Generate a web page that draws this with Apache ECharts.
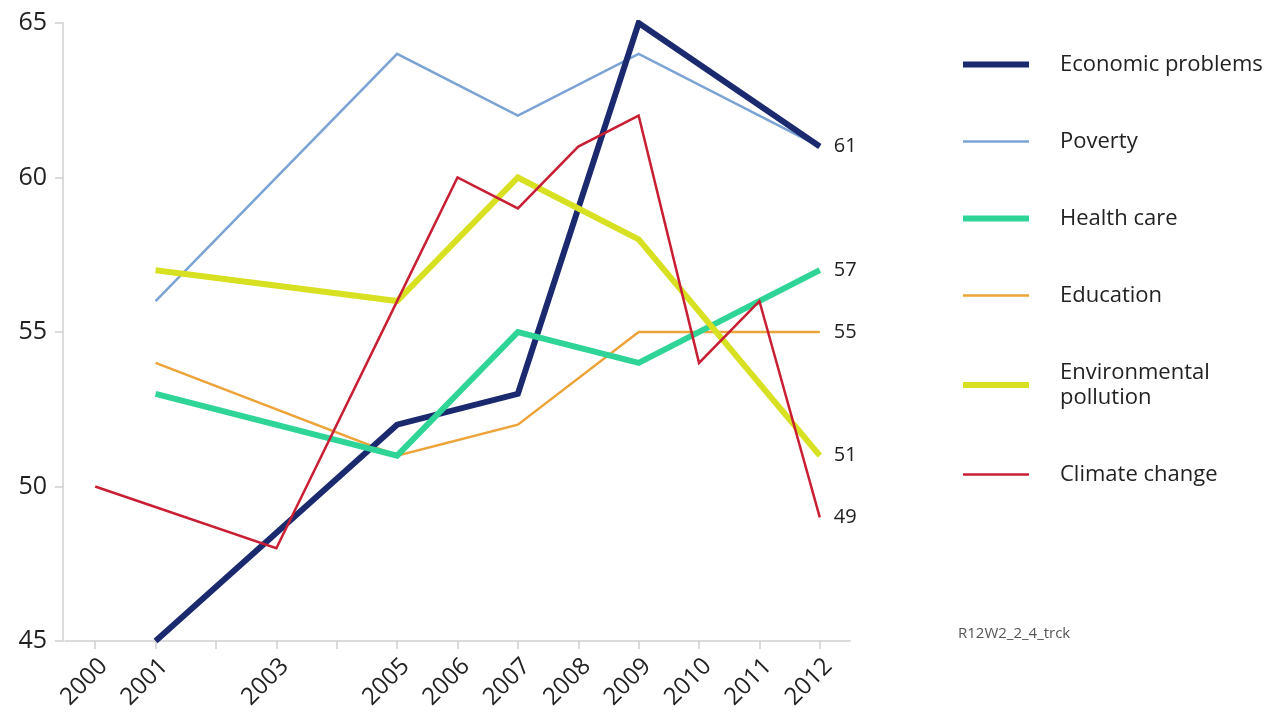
<!DOCTYPE html>
<html>
<head>
<meta charset="utf-8">
<title>Top concerns 2000–2012</title>
<script src="https://cdn.jsdelivr.net/npm/echarts@6/dist/echarts.min.js"></script>
<style>
  html, body { margin: 0; padding: 0; background: #fff; }
  #chart { width: 1284px; height: 712px; }
</style>
</head>
<body>
<div id="chart"></div>
<script>
// Survey years on the horizontal axis (every year gets a tick; only some are labelled)
const years = ['2000','2001','2002','2003','2004','2005','2006','2007','2008','2009','2010','2011','2012'];
const yearLabels = ['2000','2001','2003','2005','2006','2007','2008','2009','2010','2011','2012'];
const valueTicks = [45, 50, 55, 60, 65];

// Share of respondents per concern (null = not asked that year)
const economicProblems = [null, 45, null, null, null, 52, null, 53, null, 65, null, null, 61];
const poverty          = [null, 56, null, null, null, 64, null, 62, null, 64, null, null, 61];
const healthCare       = [null, 53, null, null, null, 51, null, 55, null, 54, null, null, 57];
const education        = [null, 54, null, null, null, 51, null, 52, null, 55, null, null, 55];
const pollution        = [null, 57, null, null, null, 56, null, 60, null, 58, null, null, 51];
const climateChange    = [50, null, null, 48, null, 56, 60, 59, 61, 62, 54, 56, 49];

const FONT = 'Open Sans';
const TEXT = '#222';

const COLORS = {
  econ: '#1b2a6e',
  poverty: '#7ba3d3',
  health: '#2fd596',
  education: '#eda33a',
  pollution: '#d8e022',
  climate: '#c91f34'
};

function lineSeries(name, data, color, width, showEnd) {
  return {
    name: name,
    type: 'line',
    data: data,
    connectNulls: true,
    symbol: 'none',
    showSymbol: false,
    lineStyle: { color: color, width: width, cap: 'butt', join: 'miter' },
    itemStyle: { color: color },
    emphasis: { disabled: true },
    endLabel: {
      show: showEnd,
      distance: 14,
      formatter: p => String(Array.isArray(p.value) ? p.value[1] : p.value),
      color: TEXT,
      fontFamily: FONT,
      fontSize: 20
    }
  };
}

const chart = echarts.init(document.getElementById('chart'), null, { renderer: 'canvas' });

chart.setOption({
  animation: false,
  backgroundColor: '#fff',
  grid: { left: 65, right: 434, top: 23, bottom: 71, containLabel: false },
  xAxis: {
    type: 'category',
    data: years,
    boundaryGap: true,
    axisLine: { lineStyle: { color: '#cfcfcf', width: 1.5 } },
    axisTick: { show: true, alignWithLabel: true, interval: 0, length: 8, lineStyle: { color: '#cfcfcf', width: 1.5 } },
    axisLabel: {
      interval: 0,
      rotate: 45,
      margin: 30,
      color: TEXT,
      fontFamily: FONT,
      fontSize: 24,
      padding: [0, -12, 0, 0],
      formatter: v => yearLabels.includes(v) ? v : ''
    },
    splitLine: { show: false }
  },
  yAxis: {
    type: 'value',
    min: valueTicks[0],
    max: valueTicks[valueTicks.length - 1],
    interval: 5,
    offset: 2,
    axisLine: { show: true, lineStyle: { color: '#cfcfcf', width: 1.5 } },
    axisTick: { show: true, length: 8, lineStyle: { color: '#cfcfcf', width: 1.5 } },
    axisLabel: { color: TEXT, fontFamily: FONT, fontSize: 25, margin: 16 },
    splitLine: { show: false }
  },
  legend: {
    orient: 'vertical',
    left: 955,
    top: 47,
    itemWidth: 66,
    itemHeight: 14,
    itemGap: 52,
    selectedMode: false,
    lineStyle: { width: 'inherit' },
    itemStyle: { color: 'rgba(0,0,0,0)', borderWidth: 0, opacity: 0 },
    textStyle: {
      color: TEXT,
      fontFamily: FONT,
      fontSize: 22,
      lineHeight: 25,
      padding: [0, 0, 0, 26]
    },
    data: [
      'Economic problems',
      'Poverty',
      'Health care',
      'Education',
      'Environmental\npollution',
      'Climate change'
    ]
  },
  graphic: [{
    type: 'text',
    left: 958,
    top: 626,
    style: { text: 'R12W2_2_4_trck', fill: '#555', font: '15px "Open Sans"' }
  }],
  series: [
    lineSeries('Poverty', poverty, COLORS.poverty, 2.5, false),
    lineSeries('Education', education, COLORS.education, 2.5, true),
    lineSeries('Economic problems', economicProblems, COLORS.econ, 6, true),
    lineSeries('Health care', healthCare, COLORS.health, 6, true),
    lineSeries('Environmental\npollution', pollution, COLORS.pollution, 6, true),
    lineSeries('Climate change', climateChange, COLORS.climate, 2.5, true)
  ]
});
</script>
</body>
</html>
